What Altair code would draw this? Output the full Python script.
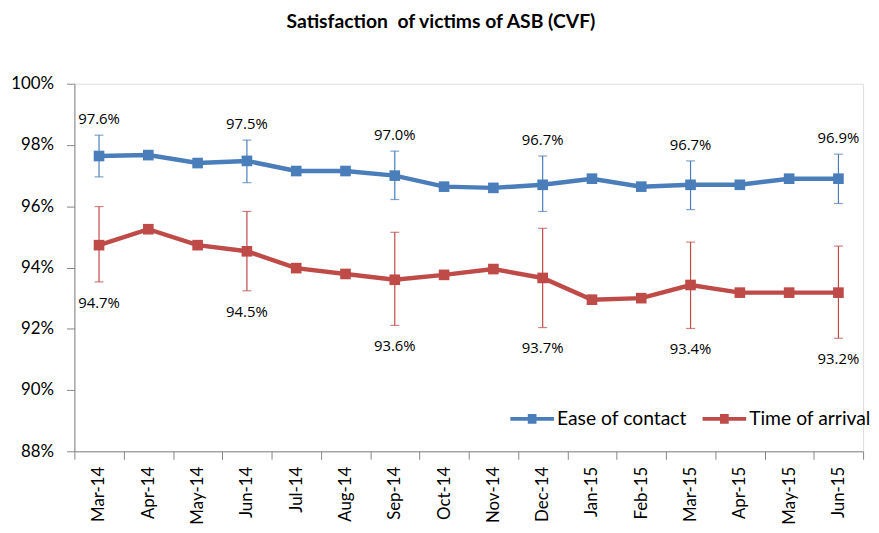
import altair as alt
import pandas as pd

months = ["Mar-14", "Apr-14", "May-14", "Jun-14", "Jul-14", "Aug-14", "Sep-14", "Oct-14",
          "Nov-14", "Dec-14", "Jan-15", "Feb-15", "Mar-15", "Apr-15", "May-15", "Jun-15"]
series_names = ["Ease of contact", "Time of arrival"]
ease = [97.64, 97.67, 97.41, 97.48, 97.15, 97.15, 97.00, 96.64,
        96.60, 96.70, 96.90, 96.64, 96.70, 96.70, 96.90, 96.90]
arrival = [94.73, 95.25, 94.73, 94.53, 93.98, 93.79, 93.60, 93.76,
           93.95, 93.66, 92.95, 93.00, 93.43, 93.18, 93.18, 93.18]

# error bars (quarterly months)
err_months = ["Mar-14", "Jun-14", "Sep-14", "Dec-14", "Mar-15", "Jun-15"]
ease_lo = [96.96, 96.77, 96.22, 95.83, 95.89, 96.09]
ease_hi = [98.32, 98.16, 97.80, 97.64, 97.48, 97.70]
arr_lo = [93.53, 93.24, 92.11, 92.04, 92.01, 91.69]
arr_hi = [95.99, 95.83, 95.15, 95.28, 94.83, 94.70]

colors = ["#4A7EBB", "#BE4B48"]
FONT = "Lato"
LFONT = "Open Sans"

rows = []
for s, vals in zip(series_names, [ease, arrival]):
    for m, v in zip(months, vals):
        rows.append({"month": m, "series": s, "value": v})
df = pd.DataFrame(rows)

erows = []
for s, vals, lo, hi in zip(series_names, [ease, arrival], [ease_lo, arr_lo], [ease_hi, arr_hi]):
    for m, l, h in zip(err_months, lo, hi):
        v = vals[months.index(m)]
        erows.append({"month": m, "series": s, "value": v, "lo": l, "hi": h,
                      "label": f"{v:.1f}%"})
edf = pd.DataFrame(erows)

xenc = alt.X("month:N", sort=months, bandPosition=0.5,
             scale=alt.Scale(type="band", domain=months, paddingInner=0, paddingOuter=0),
             axis=alt.Axis(title=None, labelAngle=-90, labelFont=FONT, labelFontSize=17,
                           labelColor="#000000", labelPadding=7, tickBand="extent",
                           tickSize=8, tickColor="#868686", domainColor="#868686",
                           grid=False))
yscale = alt.Scale(domain=[88, 100], nice=False, zero=False)
yaxis = alt.Axis(title=None, values=[88, 90, 92, 94, 96, 98, 100],
                 labelExpr="datum.value + '%'", labelFont=FONT, labelFontSize=17,
                 labelColor="#000000", labelPadding=13, tickSize=8,
                 tickColor="#868686", domainColor="#868686", grid=False)
cscale = alt.Scale(domain=series_names, range=colors)

base = alt.Chart(df)
ebase = alt.Chart(edf)

rules = ebase.mark_rule(strokeWidth=1.2).encode(
    x=xenc,
    y=alt.Y("lo:Q", scale=yscale, axis=yaxis),
    y2="hi:Q",
    color=alt.Color("series:N", scale=cscale, legend=None),
)
cap_lo = ebase.mark_tick(size=9, thickness=1.2, orient="horizontal").encode(
    x=xenc, y=alt.Y("lo:Q", scale=yscale),
    color=alt.Color("series:N", scale=cscale, legend=None),
)
cap_hi = ebase.mark_tick(size=9, thickness=1.2, orient="horizontal").encode(
    x=xenc, y=alt.Y("hi:Q", scale=yscale),
    color=alt.Color("series:N", scale=cscale, legend=None),
)
lines = base.mark_line(strokeWidth=4.5).encode(
    x=xenc, y=alt.Y("value:Q", scale=yscale),
    color=alt.Color("series:N", scale=cscale, legend=None),
)
sym_path = "M-1,-0.09H1V0.09H-1Z M-0.2,-0.22H0.2V0.22H-0.2Z"
points = base.mark_point(shape="square", filled=True, size=115, opacity=1).encode(
    x=xenc, y=alt.Y("value:Q", scale=yscale),
    color=alt.Color("series:N", scale=cscale,
                    legend=alt.Legend(title=None, orient="none", direction="horizontal",
                                      legendX=440, legendY=316,
                                      symbolType=sym_path, symbolSize=1936,
                                      symbolOpacity=1, symbolStrokeWidth=0,
                                      labelFont=FONT, labelFontSize=19.5,
                                      labelColor="#000000", labelOffset=3,
                                      columnPadding=15)),
)
lab_top = ebase.transform_filter(alt.datum.series == series_names[0]).mark_text(
    font=LFONT, fontSize=15, color="#000000", baseline="middle", dy=-16).encode(
    x=xenc, y=alt.Y("hi:Q", scale=yscale), text="label:N")
lab_bot = ebase.transform_filter(alt.datum.series == series_names[1]).mark_text(
    font=LFONT, fontSize=15, color="#000000", baseline="middle", dy=21).encode(
    x=xenc, y=alt.Y("lo:Q", scale=yscale), text="label:N")

chart = alt.layer(rules, cap_lo, cap_hi, lines, points, lab_top, lab_bot).resolve_scale(
    color="independent"
).properties(
    width=796, height=371,
    title=alt.TitleParams("Satisfaction\u00a0 of victims of ASB (CVF)", font=FONT, fontSize=19.5,
                          fontWeight="bold", color="#000000", anchor="middle",
                          dx=-28, offset=43),
    autosize="none",
    padding={"left": 67, "top": 74, "right": 8, "bottom": 78},
).configure_view(stroke=None).configure(background="#ffffff")

chart.save("out.html", embed_options={"renderer": "svg", "actions": False})
